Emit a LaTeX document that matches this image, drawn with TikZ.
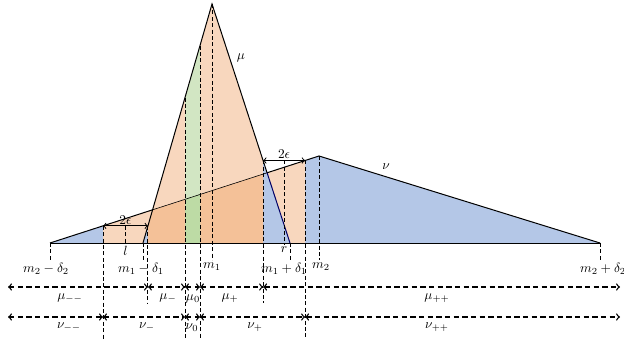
\documentclass[tikz,border=0pt]{standalone}
\usepackage{amsmath,amssymb}
\usepackage{xcolor}
\usepackage{tikz}
\definecolor{nublue}{RGB}{180,199,231}
\definecolor{mupeach}{RGB}{248,215,190}
\definecolor{muorange}{RGB}{244,193,152}
\definecolor{grnlight}{RGB}{210,230,195}
\definecolor{grndark}{RGB}{189,219,165}
\begin{document}
\begin{tikzpicture}[x=7.5pt,y=7.5pt,
    guide/.style={dash pattern=on 3pt off 1.8pt,line width=.7pt},
    span/.style={<->,dash pattern=on 4pt off 2.5pt,line width=1pt},
    edge/.style={line width=.75pt}]
    \useasboundingbox (0,-9.6) rectangle (62.4,24.3);
    \coordinate (nuL) at (5,0);
    \coordinate (nuT) at (31.9,8.7);
    \coordinate (nuR) at (60,0);
    \coordinate (muL) at (14.3,0);
    \coordinate (muT) at (21.2,23.9);
    \coordinate (muR) at (29,0);
    \coordinate (cL) at (15.258,3.318);
    \coordinate (cR) at (26.709,7.021);
    % the two densities and the pieces of the coupling
    \fill[nublue] (nuL) -- (nuT) -- (nuR) -- cycle;
    \fill[mupeach] (muL) -- (muT) -- (muR) -- cycle;
    \fill[nublue] (muL) -- (14.795,1.714) -- (14.795,0) -- cycle;
    \fill[nublue] (26.31,0) -- (26.31,8.25) -- (muR) -- cycle;
    \fill[muorange] (14.795,0) -- (14.795,1.714) -- (cL) -- (26.31,6.892) -- (26.31,0) -- cycle;
    \fill[mupeach] (10.3,0) -- (10.3,1.714) -- (cL) -- (muL) -- cycle;
    \fill[mupeach] (muR) -- (cR) -- (30.509,8.25) -- (30.509,0) -- cycle;
    \fill[grnlight] (18.5,0) -- (18.5,14.548) -- (20,19.744) -- (20,0) -- cycle;
    \fill[grndark] (18.5,0) -- (18.5,4.366) -- (20,4.851) -- (20,0) -- cycle;
    \draw[edge] (nuL) -- (nuR);
    \draw[edge] (nuL) -- (cL);
    \draw[line width=.45pt] (cL) -- (cR);
    \draw[edge] (cR) -- (nuT) -- (nuR);
    \draw[edge] (muL) -- (muT) -- (cR);
    \draw[edge,blue!40!black] (cR) -- (muR);
    \node (lbl-mu) at (24.1,18.5) {$\mu$};
    \node (lbl-nu) at (38.6,7.6) {$\nu$};
    % dashed guides
    \foreach \x/\top/\bot in {10.3/1.714/-9.6,12.55/1.714/-0.2,14.795/1.714/-6.0,18.5/14.548/-9.6,
        20/19.744/-9.6,21.2/23.9/-1.7,26.31/8.25/-6.0,28.41/8.25/-0.2,30.509/8.25/-9.6,
        31.9/8.7/-1.7,5/0/-1.7,14.3/0/-1.7,29/0/-1.7,60/0/-1.7}{
      \draw[guide] (\x,\top) -- (\x,\bot);
    }
    \foreach \lx/\lab [count=\i] in {4.6/{m_2-\delta_2},14.1/{m_1-\delta_1},21.2/{m_1},28.4/{m_1+\delta_1},32.1/{m_2},60.3/{m_2+\delta_2}}{
      \node[anchor=north,inner sep=2pt] (tk\i) at (\lx,-1.7) {$\lab$};
    }
    \node[anchor=north,inner sep=1pt] (lbl-l) at (12.55,-0.2) {$l$};
    \node[anchor=north,inner sep=1pt] (lbl-r) at (28.41,-0.2) {$r$};
    % the two 2 epsilon windows
    \draw[<->,edge] (10.3,1.714) -- node[above,inner sep=1pt] (eps-l) {$2\epsilon$} (14.795,1.714);
    \draw[<->,edge] (26.31,8.25) -- node[above,inner sep=1pt] (eps-r) {$2\epsilon$} (30.509,8.25);
    % the two rows of parts
    \foreach \n/\x in {a/0.8,b/14.795,c/18.5,d/20,e/26.31,f/62}{
      \coordinate (mu\n) at (\x,-4.4);
    }
    \foreach \n/\x in {a/0.8,b/10.3,c/18.5,d/20,e/30.509,f/62}{
      \coordinate (nu\n) at (\x,-7.4);
    }
    \draw[span] (mua) -- (mub);
    \draw[span] (mub) -- (muc);
    \draw[span] (muc) -- (mud);
    \draw[span] (mud) -- (mue);
    \draw[span] (mue) -- (muf);
    \draw[span] (nua) -- (nub);
    \draw[span] (nub) -- (nuc);
    \draw[span] (nuc) -- (nud);
    \draw[span] (nud) -- (nue);
    \draw[span] (nue) -- (nuf);
    \foreach \lx/\lab [count=\i] in {7.0/{\mu_{--}},16.8/{\mu_-},19.3/{\mu_0},23.0/{\mu_+},43.7/{\mu_{++}}}{
      \node[inner sep=1pt] (mul\i) at (\lx,-5.55) {$\lab$};
    }
    \foreach \lx/\lab [count=\i] in {6.9/{\nu_{--}},14.7/{\nu_-},19.2/{\nu_0},25.5/{\nu_+},43.7/{\nu_{++}}}{
      \node[inner sep=1pt] (nul\i) at (\lx,-8.45) {$\lab$};
    }
  \end{tikzpicture}
\end{document}
